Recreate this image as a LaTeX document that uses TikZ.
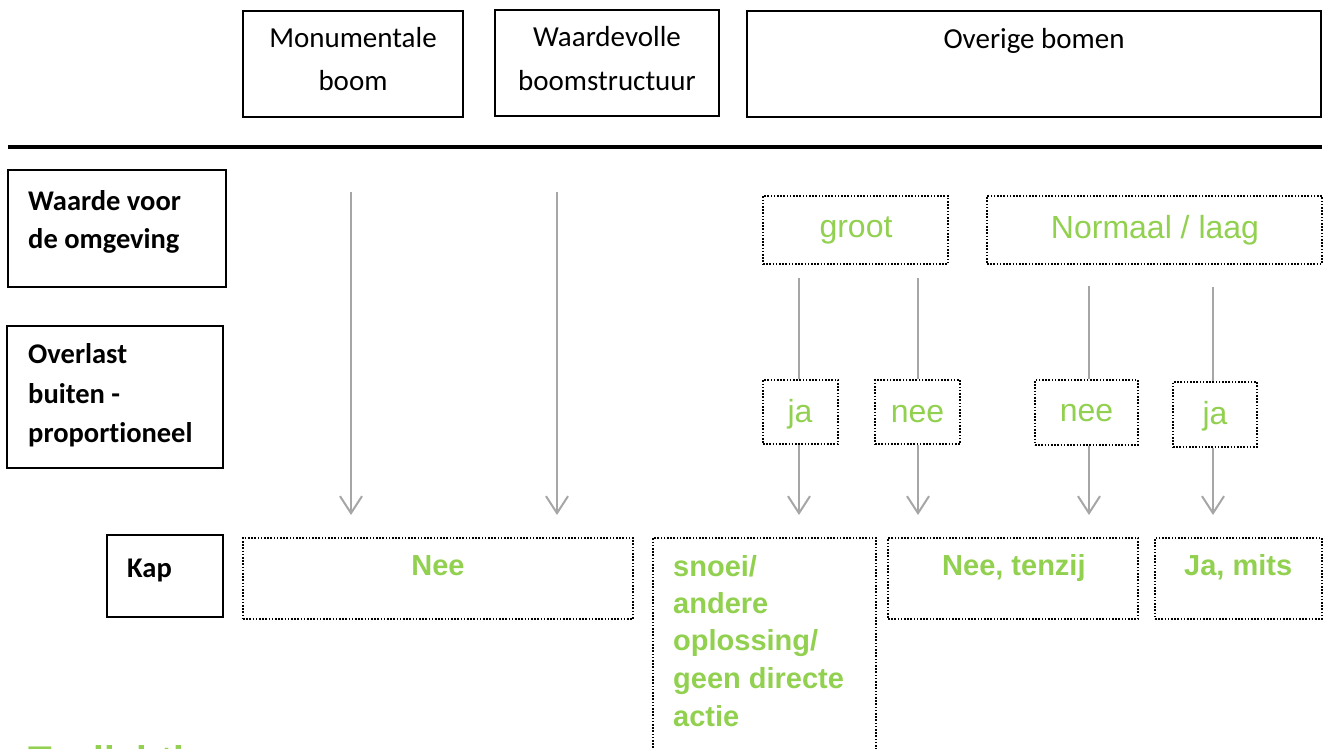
\documentclass[tikz,border=0pt]{standalone}
\usepackage{fontspec}
\setmainfont{Carlito}[Ligatures=CommonOff]
\newfontfamily\arialf{Liberation Sans}
\usetikzlibrary{arrows.meta,fit}
\definecolor{grn}{HTML}{92D050}
\definecolor{arrgray}{HTML}{A6A6A6}
\begin{document}
\begin{tikzpicture}[x=1pt,y=-1pt,
  solidbox/.style={draw=black, line width=1.6pt, inner sep=0pt},
  dotbox/.style={draw=black, line width=1.6pt, dash pattern=on 1.6pt off 1.6pt, inner sep=0pt},
  toptext/.style={inner sep=0pt, anchor=base, font=\fontsize{29}{29}\selectfont},
  lefttext/.style={inner sep=0pt, anchor=base west, font=\bfseries\fontsize{28.5}{28.5}\selectfont},
  grtext/.style={inner sep=0pt, anchor=base, text=grn, font=\arialf\fontsize{32}{32}\selectfont},
  grbold/.style={inner sep=0pt, anchor=base west, text=grn, font=\arialf\bfseries\fontsize{29}{29}\selectfont},
  conn/.style={draw=arrgray, line width=2pt},
  arrowconn/.style={conn, -{Straight Barb[length=17pt,width=22pt]}}]
\useasboundingbox (0,0) rectangle (1330,749);
\clip (0,0) rectangle (1330,749);

% top category boxes
\node[solidbox, fit={(243,11) (463,117)}] (mon) {};
\node[solidbox, fit={(495,10) (719,116)}] (waard) {};
\node[solidbox, fit={(747,11) (1321,117)}] (overige) {};
\node[toptext] (monA) at (353,48) {Monumentale};
\node[toptext] (monB) at (353,91) {boom};
\node[toptext] (waardA) at (607,47) {Waardevolle};
\node[toptext] (waardB) at (607,91) {boomstructuur};
\node[toptext] (overigeT) at (1034,49) {Overige bomen};

% separator
\coordinate (sepL) at (8,147);
\coordinate (sepR) at (1322,147);
\draw[line width=4pt] (sepL) -- (sepR);

% left row labels
\node[solidbox, fit={(8,170) (226,287)}] (waarde) {};
\node[lefttext] (waardeA) at (28,210) {Waarde voor};
\node[lefttext] (waardeB) at (28,248) {de omgeving};
\node[solidbox, fit={(7,326) (223,468)}] (overlast) {};
\node[lefttext] (overlastA) at (28,363) {Overlast};
\node[lefttext] (overlastB) at (28,403) {buiten -};
\node[lefttext] (overlastC) at (28,442) {proportioneel};
\node[solidbox, fit={(107,535) (223,617)}] (kap) {};
\node[lefttext] (kapT) at (127,577) {Kap};

% value boxes
\node[dotbox, fit={(763,196) (948,264)}] (groot) {};
\node[grtext] (grootT) at (856,237) {groot};
\node[dotbox, fit={(987,196) (1322,264)}] (normaal) {};
\node[grtext] (normaalT) at (1155,238) {Normaal / laag};

% ja / nee boxes
\node[dotbox, fit={(763,380) (838,444)}] (ja1) {};
\node[grtext] (ja1T) at (800,422) {ja};
\node[dotbox, fit={(875,380) (960,444)}] (nee1) {};
\node[grtext] (nee1T) at (917.5,422) {nee};
\node[dotbox, fit={(1035,380) (1138,445)}] (nee2) {};
\node[grtext] (nee2T) at (1086.5,421) {nee};
\node[dotbox, fit={(1173,382) (1257,447)}] (ja2) {};
\node[grtext] (ja2T) at (1215,424) {ja};

% Kap outcome boxes
\node[dotbox, fit={(243,538) (633,619)}] (nee) {};
\node[grbold, anchor=base] (neeT) at (438,575) {Nee};
\node[dotbox, fit={(653,538) (876,770)}] (snoei) {};
\node[grbold] (snoeiA) at (673,576) {snoei/};
\node[grbold] (snoeiB) at (673,613) {andere};
\node[grbold] (snoeiC) at (673,650) {oplossing/};
\node[grbold] (snoeiD) at (673,688) {geen directe};
\node[grbold] (snoeiE) at (673,726) {actie};
\node[dotbox, fit={(888,538) (1138,619)}] (tenzij) {};
\node[grbold] (tenzijT) at (942,575) {Nee, tenzij};
\node[dotbox, fit={(1155,538) (1322,619)}] (mits) {};
\node[grbold] (mitsT) at (1184,575) {Ja, mits};

% heading below (cut off by the page edge, as in the reference)
\node[inner sep=0pt, anchor=base west, text=grn, font=\arialf\bfseries\fontsize{38.6}{38.6}\selectfont] (toel) at (28,773) {Toelichting};

% connectors
\coordinate (s1) at (351,192);
\coordinate (s2) at (557,192);
\coordinate (tip) at (0,515);
\draw[arrowconn] (s1) -- (s1 |- tip);
\draw[arrowconn] (s2) -- (s2 |- tip);

\coordinate (g1) at (799,278);
\coordinate (g2) at (918,278);
\coordinate (n1) at (1089,286);
\coordinate (n2) at (1213,287);
\draw[conn] (g1) -- (g1 |- ja1.north);
\draw[conn] (g2) -- (g2 |- nee1.north);
\draw[conn] (n1) -- (n1 |- nee2.north);
\draw[conn] (n2) -- (n2 |- ja2.north);
\draw[arrowconn] (g1 |- ja1.south) -- (g1 |- tip);
\draw[arrowconn] (g2 |- nee1.south) -- (g2 |- tip);
\draw[arrowconn] (n1 |- nee2.south) -- (n1 |- tip);
\draw[arrowconn] (n2 |- ja2.south) -- (n2 |- tip);
\end{tikzpicture}
\end{document}
